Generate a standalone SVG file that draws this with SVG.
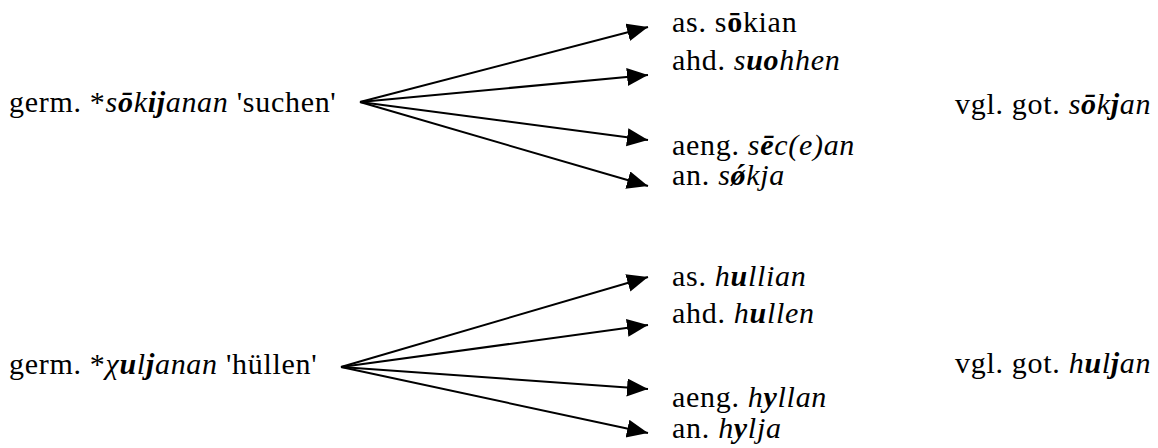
<svg xmlns="http://www.w3.org/2000/svg" width="1158" height="448" viewBox="0 0 1158 448">
<style>
.t text { font-size: 30px; letter-spacing: 0.7px; fill: #000; }
.i { font-style: italic; }
.b { font-weight: bold; }
.conn line { stroke: #000; stroke-width: 2; marker-end: url(#ah); }
</style>
<defs>
<marker id="ah" markerUnits="userSpaceOnUse" markerWidth="22" markerHeight="20" refX="21" refY="9" orient="auto">
<path d="M0,0 L21,9 L0,18 Z" fill="#000"/>
</marker>
</defs>
<rect width="1158" height="448" fill="#fff"/>
<g class="t" font-family="Liberation Serif, Times New Roman, serif">
<g id="src1"><text x="9" y="112">germ. *<tspan class="i">s</tspan><tspan class="i b">ō</tspan><tspan class="i">k</tspan><tspan class="i b">ij</tspan><tspan class="i">anan</tspan> 'suchen'</text></g>
<g id="t1a"><text x="672" y="32">as. s<tspan class="b">ō</tspan>kian</text></g>
<g id="t1b"><text x="672" y="70">ahd. <tspan class="i">s</tspan><tspan class="i b">uo</tspan><tspan class="i">hhen</tspan></text></g>
<g id="t1c"><text x="672" y="155">aeng. <tspan class="i">s</tspan><tspan class="i b">ē</tspan><tspan class="i">c(e)an</tspan></text></g>
<g id="t1d"><text x="672" y="185">an. <tspan class="i">s</tspan><tspan class="i b">ǿ</tspan><tspan class="i">kja</tspan></text></g>
<g id="cmp1"><text x="955" y="114">vgl. got. <tspan class="i">s</tspan><tspan class="i b">ō</tspan><tspan class="i">k</tspan><tspan class="i b">j</tspan><tspan class="i">an</tspan></text></g>

<g id="src2"><text x="9" y="374">germ. *<tspan class="i">χ</tspan><tspan class="i b">u</tspan><tspan class="i">l</tspan><tspan class="i b">j</tspan><tspan class="i">anan</tspan> 'hüllen'</text></g>
<g id="t2a"><text x="672" y="286">as. <tspan class="i">h</tspan><tspan class="i b">u</tspan><tspan class="i">llian</tspan></text></g>
<g id="t2b"><text x="672" y="323">ahd. <tspan class="i">h</tspan><tspan class="i b">u</tspan><tspan class="i">llen</tspan></text></g>
<g id="t2c"><text x="672" y="407">aeng. <tspan class="i">h</tspan><tspan class="i b">y</tspan><tspan class="i">llan</tspan></text></g>
<g id="t2d"><text x="672" y="438">an. <tspan class="i">h</tspan><tspan class="i b">y</tspan><tspan class="i">lja</tspan></text></g>
<g id="cmp2"><text x="955" y="373">vgl. got. <tspan class="i">h</tspan><tspan class="i b">u</tspan><tspan class="i">l</tspan><tspan class="i b">j</tspan><tspan class="i">an</tspan></text></g>
</g>
<g id="connectors" class="conn">
<line x1="360" y1="102" x2="648" y2="27"/>
<line x1="360" y1="102" x2="648" y2="75"/>
<line x1="360" y1="102" x2="648" y2="140"/>
<line x1="360" y1="102" x2="648" y2="186"/>
<line x1="341" y1="367" x2="648" y2="277"/>
<line x1="341" y1="367" x2="648" y2="325"/>
<line x1="341" y1="367" x2="648" y2="389"/>
<line x1="341" y1="367" x2="648" y2="433"/>
</g>
</svg>
